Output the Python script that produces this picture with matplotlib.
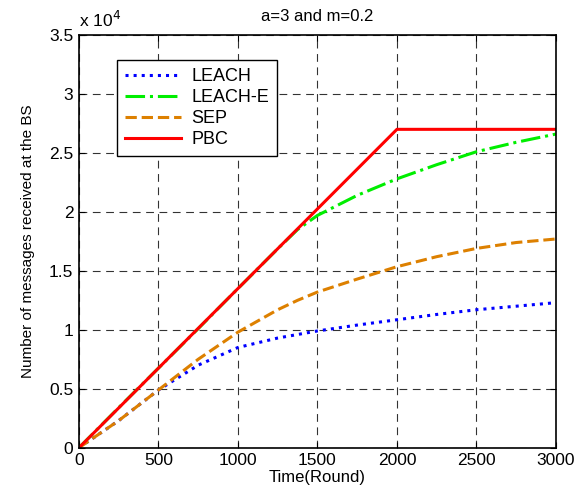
import matplotlib
matplotlib.use('Agg')
import matplotlib.pyplot as plt

plt.rcParams['font.family'] = ['Liberation Sans', 'DejaVu Sans']

# Datos (mensajes recibidos en la BS, x 10^4)
rondas = [0, 250, 500, 750, 1000, 1250, 1375, 1500, 1750, 2000, 2250, 2500, 2750, 3000]
leach = [0, 0.23, 0.49, 0.70, 0.85, 0.93, 0.96, 0.99, 1.04, 1.085, 1.13, 1.17, 1.20, 1.23]
leach_e = [0, 0.34, 0.675, 1.01, 1.35, 1.687, 1.85, 1.97, 2.14, 2.28, 2.40, 2.51, 2.59, 2.66]
sep = [0, 0.23, 0.49, 0.75, 0.98, 1.17, 1.25, 1.32, 1.43, 1.535, 1.62, 1.69, 1.74, 1.77]
pbc_rondas = [0, 2000, 3000]
pbc = [0, 2.70, 2.70]

fig = plt.figure(figsize=(5.87, 4.91), dpi=100)
ax = fig.add_axes([0.1346, 0.0882, 0.8124, 0.8405])

ax.plot(rondas, [v * 1e4 for v in leach], ':', color='#0000ff', lw=2.2, label='LEACH')
ax.plot(rondas, [v * 1e4 for v in leach_e], '-.', color='#00ee00', lw=2.2, label='LEACH-E')
ax.plot(rondas, [v * 1e4 for v in sep], '--', color='#dd8000', lw=2.2, label='SEP')
ax.plot(pbc_rondas, [v * 1e4 for v in pbc], '-', color='#ff0000', lw=2.2, label='PBC')

ax.set_xlim(0, 3000)
ax.set_ylim(0, 3.5e4)
ax.set_xticks(range(0, 3001, 500))
ax.set_yticks([i * 0.5e4 for i in range(8)])
ax.set_yticklabels(['0', '0.5', '1', '1.5', '2', '2.5', '3', '3.5'])
ax.tick_params(direction='in', labelsize=12.5, length=4, top=True, right=True, pad=4)
ax.grid(True, color='black', linestyle=(0, (7, 5)), lw=0.8, alpha=0.8)
for s in ax.spines.values():
    s.set_linewidth(1.2)

ax.text(0.0, 1.012, r'x 10$^{4}$', transform=ax.transAxes, fontsize=12.5, va='bottom')
ax.set_title('a=3 and m=0.2', fontsize=12, pad=10)
ax.set_xlabel('Time(Round)', fontsize=12, labelpad=1)
ax.set_ylabel('Number of messages received at the BS', fontsize=11, labelpad=10)

leg = ax.legend(loc='upper left', bbox_to_anchor=(0.08, 0.939), borderaxespad=0,
                fontsize=13, fancybox=False, edgecolor='black', framealpha=1,
                handlelength=3.1, handletextpad=0.55, borderpad=0.45, labelspacing=0.22)
leg.get_frame().set_linewidth(1.0)

fig.savefig('out.png', dpi=100)
